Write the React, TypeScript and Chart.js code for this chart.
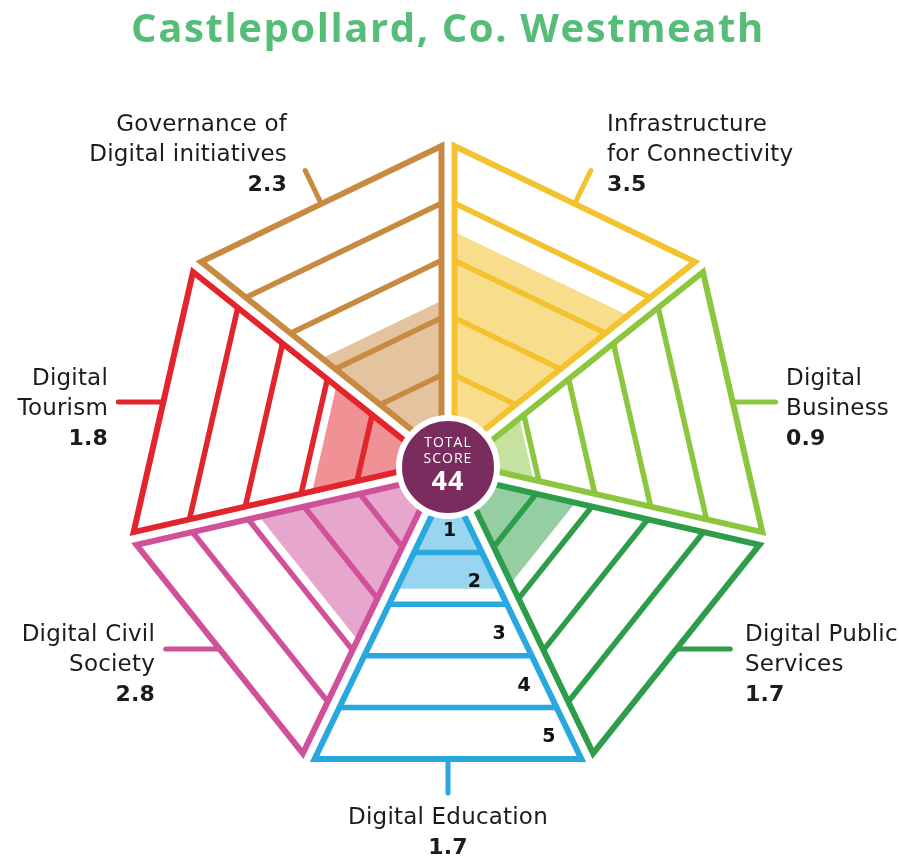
import { useEffect, useRef } from "react";
import { Chart, registerables } from "chart.js";

Chart.register(...registerables);

// ---------- data ----------
const title = "Castlepollard, Co. Westmeath";
const categories: string[][] = [
  ["Infrastructure", "for Connectivity"],
  ["Digital", "Business"],
  ["Digital Public", "Services"],
  ["Digital Education"],
  ["Digital Civil", "Society"],
  ["Digital", "Tourism"],
  ["Governance of", "Digital initiatives"],
];
const scores = [3.5, 0.9, 1.7, 1.7, 2.8, 1.8, 2.3];
const scoreLabels = ["3.5", "0.9", "1.7", "1.7", "2.8", "1.8", "2.3"];
const levelTicks = ["1", "2", "3", "4", "5"];
const totalLabel = ["TOTAL", "SCORE"];
const totalScore = 44;

// ---------- style ----------
const colors = ["#F3C22E", "#8CC63F", "#2E9D4A", "#29A7DF", "#D0509A", "#E2252C", "#C88A40"];
const fills = [
  "rgba(243,194,46,0.55)",
  "rgba(140,198,63,0.5)",
  "rgba(46,157,74,0.5)",
  "rgba(41,167,223,0.48)",
  "rgba(208,80,154,0.5)",
  "rgba(226,37,44,0.5)",
  "rgba(200,138,64,0.5)",
];
const CENTER_PX = { x: 448, y: 467 };
const W = 899, H = 857;
const GAP = 15;
const BASE = 34;
const STEP = 51.6;
const TAN = Math.tan(Math.PI / 7);
const START_ANGLE = -90 + 180 / 7;
const LINE_W = 6;

// leader direction (screen) and length, null dir = along bisector
const leaders: { dir: [number, number] | null; len: number }[] = [
  { dir: null, len: 37 },
  { dir: [1, 0], len: 43 },
  { dir: [1, 0], len: 54 },
  { dir: [0, 1], len: 34 },
  { dir: [-1, 0], len: 54 },
  { dir: [-1, 0], len: 45 },
  { dir: null, len: 37 },
];
const labelLayout: { x: number; y: number; align: CanvasTextAlign }[] = [
  { x: 607, y: 125, align: "left" },
  { x: 786, y: 379, align: "left" },
  { x: 745, y: 635, align: "left" },
  { x: 448, y: 818, align: "center" },
  { x: 155, y: 635, align: "right" },
  { x: 108, y: 379, align: "right" },
  { x: 287, y: 125, align: "right" },
];
const LABEL_FONT = '"DejaVu Sans"';

function dirOf(i: number) {
  const a = ((START_ANGLE + (i * 360) / 7) * Math.PI) / 180;
  return { ux: Math.cos(a), uy: -Math.sin(a) };
}
function pt(i: number, d: number, s: number) {
  const { ux, uy } = dirOf(i);
  const vx = -uy, vy = ux;
  const h = TAN * (d - GAP) * s;
  return { x: d * ux + h * vx, y: d * uy + h * vy };
}
const lvl = (v: number) => BASE + v * STEP;

function buildDatasets() {
  const ds: any[] = [];
  // center circle
  ds.push({
    data: [{ x: 0, y: 0 }],
    showLine: false,
    pointRadius: 49,
    pointHoverRadius: 49,
    pointBackgroundColor: "#7B2C5E",
    pointBorderColor: "#ffffff",
    pointBorderWidth: 6,
    clip: false,
    order: 0,
  });
  scores.forEach((score, i) => {
    const c = colors[i];
    // fill polygon
    const apex = pt(i, GAP, 0);
    const dF = lvl(score);
    const tri = [apex, pt(i, dF, -1), pt(i, dF, 1)].sort((a, b) => a.x - b.x);
    ds.push({
      data: tri,
      showLine: true,
      fill: "shape",
      backgroundColor: fills[i],
      borderWidth: 0,
      pointRadius: 0,
      order: 5,
    });
    // level lines
    for (let k = 1; k < levelTicks.length; k++) {
      const d = lvl(k);
      ds.push({
        data: [pt(i, d, -1), pt(i, d, 1)],
        showLine: true,
        fill: false,
        borderColor: c,
        borderWidth: LINE_W - 0.5,
        pointRadius: 0,
        order: 3,
      });
    }
    // outline
    const d5 = lvl(levelTicks.length);
    const mid = pt(i, d5, 0);
    ds.push({
      data: [mid, pt(i, d5, 1), apex, pt(i, d5, -1), mid],
      showLine: true,
      fill: false,
      borderColor: c,
      borderWidth: LINE_W,
      borderJoinStyle: "miter",
      pointRadius: 0,
      order: 2,
    });
    // leader
    const L = leaders[i];
    let dx: number, dy: number;
    if (L.dir) {
      dx = L.dir[0];
      dy = -L.dir[1];
    } else {
      const u = dirOf(i);
      dx = u.ux;
      dy = u.uy;
    }
    ds.push({
      data: [mid, { x: mid.x + dx * L.len, y: mid.y + dy * L.len }],
      showLine: true,
      fill: false,
      borderColor: c,
      borderWidth: LINE_W - 1,
      borderCapStyle: "round",
      pointRadius: 0,
      order: 1,
    });
  });
  return ds;
}

const textPlugin = {
  id: "texts",
  afterDatasetsDraw(chart: any) {
    const ctx: CanvasRenderingContext2D = chart.ctx;
    const xs = chart.scales.x, ys = chart.scales.y;
    ctx.save();
    ctx.textBaseline = "middle";
    // title
    ctx.fillStyle = "#55BD78";
    ctx.textAlign = "center";
    ctx.font = 'bold 40px "Open Sans"';
    (ctx as any).letterSpacing = "1.6px";
    ctx.fillText(title, 448, 31);

    // category labels
    (ctx as any).letterSpacing = "0.2px";
    categories.forEach((lines, i) => {
      const lay = labelLayout[i];
      ctx.textAlign = lay.align;
      ctx.fillStyle = "#1b1b1b";
      ctx.font = `23px ${LABEL_FONT}`;
      lines.forEach((t, j) => ctx.fillText(t, lay.x, lay.y + j * 30));
      ctx.font = `bold 22px ${LABEL_FONT}`;
      ctx.fillText(scoreLabels[i], lay.x, lay.y + lines.length * 30);
    });

    // level tick labels in the Digital Education sector
    const eIdx = 3;
    ctx.fillStyle = "#111";
    ctx.textAlign = "center";
    (ctx as any).letterSpacing = "0px";
    ctx.font = `bold 19px ${LABEL_FONT}`;
    levelTicks.forEach((t, k) => {
      const d = lvl(k + 0.5) + 4;
      const h = TAN * (d - GAP) - 22;
      const p = pt(eIdx, d, h / (TAN * (d - GAP)));
      ctx.fillText(t, xs.getPixelForValue(p.x), ys.getPixelForValue(p.y));
    });

    // center
    const cx = xs.getPixelForValue(0), cy = ys.getPixelForValue(0);
    ctx.fillStyle = "#ffffff";
    ctx.font = '14px "Open Sans"';
    (ctx as any).letterSpacing = "1px";
    ctx.fillText(totalLabel[0], cx, cy - 24);
    ctx.fillText(totalLabel[1], cx, cy - 8);
    (ctx as any).letterSpacing = "1px";
    ctx.font = 'bold 27px "Open Sans"';
    ctx.fillText(String(totalScore), cx, cy + 15);
    ctx.restore();
  },
};

export default function App() {
  const ref = useRef<HTMLCanvasElement>(null);
  useEffect(() => {
    if (!ref.current) return;
    const chart = new Chart(ref.current, {
      type: "scatter",
      data: { datasets: buildDatasets() },
      options: {
        animation: false,
        responsive: false,
        maintainAspectRatio: false,
        layout: { padding: 0, autoPadding: false },
        scales: {
          x: { type: "linear", min: -CENTER_PX.x, max: W - CENTER_PX.x, display: false },
          y: { type: "linear", min: -(H - CENTER_PX.y), max: CENTER_PX.y, display: false },
        },
        plugins: { legend: { display: false }, tooltip: { enabled: false } },
        elements: { line: { tension: 0 } },
      },
      plugins: [textPlugin],
    });
    return () => chart.destroy();
  }, []);
  return (
    <div style={{ position: "absolute", left: 0, top: 0, width: W, height: H, background: "#fff" }}>
      <canvas ref={ref} width={W} height={H} style={{ display: "block" }} />
    </div>
  );
}
